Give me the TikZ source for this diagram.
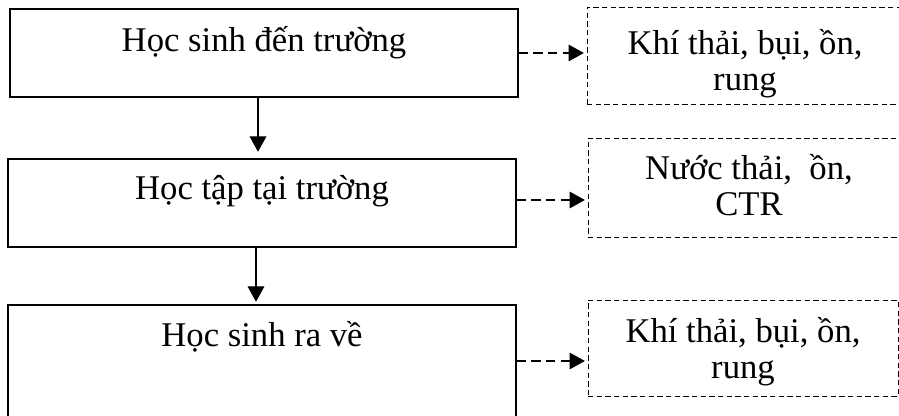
\documentclass[tikz,border=0pt]{standalone}
\usepackage{fontspec}
\setmainfont{Liberation Serif}
\usetikzlibrary{arrows.meta}
\begin{document}
\begin{tikzpicture}[x=0.75pt,y=-0.75pt,
  txt/.style={font=\fontsize{26}{26.5}\selectfont},
  mainbox/.style={txt,draw,line width=0.85pt,inner xsep=0pt,inner ysep=0pt,anchor=base,minimum width=381pt},
  sidebox/.style={txt,draw,line width=0.7pt,dash pattern=on 4pt off 2.5pt,inner xsep=0pt,inner ysep=0pt,anchor=base},
  flow/.style={line width=0.85pt,-{Triangle[length=11.5pt,width=12.5pt]}},
  emit/.style={line width=0.85pt,dash pattern=on 7pt off 4pt,-{Triangle[length=11.5pt,width=12.5pt]}}]
\clip (0,0) rectangle (899,416);
% main boxes
\node[mainbox,text height=32.25pt,text depth=33.75pt] (b1) at (264,52) {Học sinh đến trường};
\node[mainbox,text height=30.75pt,text depth=35.25pt] (b2) at (262,200) {Học tập tại trường};
\node[mainbox,text height=31.5pt,text depth=52.5pt] (b3) at (262,347) {Học sinh ra về};
% side boxes
\node[sidebox,minimum width=247.5pt,text height=36pt,text depth=36.75pt] (rA) at (752,55)
  {\begin{tabular}[t]{@{}c@{\hspace{10.5pt}}}Khí thải, bụi, ồn,\\ rung\end{tabular}};
\node[sidebox,minimum width=247.5pt,text height=31.5pt,text depth=42.75pt] (rB) at (753,180)
  {\begin{tabular}[t]{@{}c@{\hspace{6pt}}}Nước thải,~ ồn,\\ CTR\end{tabular}};
\node[sidebox,minimum width=232.5pt,text height=32.25pt,text depth=39.75pt] (rC) at (743,343)
  {\begin{tabular}[t]{@{}c@{}}Khí thải, bụi, ồn,\\ rung\end{tabular}};
% flow arrows
\draw[flow,shorten >=5pt] ([xshift=-4.5pt]b1.south) -- ([xshift=-4.5pt]b1.south |- b2.north);
\draw[flow,shorten >=2pt] ([xshift=-4.5pt]b2.south) -- ([xshift=-4.5pt]b2.south |- b3.north);
% emission arrows
\draw[emit,shorten >=2pt] (b1.east) -- (b1.east -| rA.west);
\draw[emit,shorten >=2pt] ([yshift=2.25pt]b2.east) -- ([yshift=2.25pt]b2.east -| rB.west);
\draw[emit,shorten >=2pt] (b3.east) -- (b3.east -| rC.west);
\end{tikzpicture}
\end{document}
